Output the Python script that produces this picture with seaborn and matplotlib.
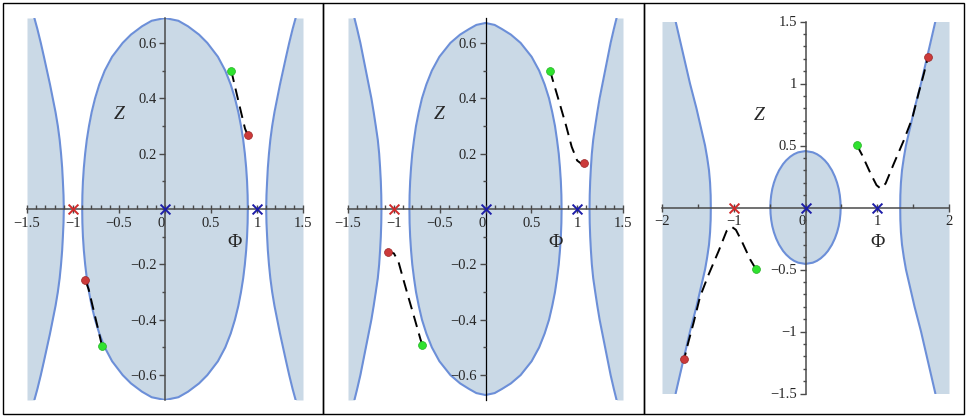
import numpy as np
import matplotlib
matplotlib.use("Agg")
import matplotlib.pyplot as plt
import seaborn as sns

sns.set_style("white")
plt.rcParams["font.family"] = ["Liberation Serif", "DejaVu Serif"]

# ---- data (upper half, mirrored in Z) ----
# panel 1
p1_blob_z = [0, .05, .1, .15, .2, .25, .3, .35, .4, .45, .5, .55, .6, .63, .66, .68, .69]
p1_blob_w = [.90, .898, .892, .882, .868, .85, .826, .797, .76, .714, .655, .575, .46, .37, .25, .145, 0]
p1_out_z = [0, .05, .1, .15, .2, .25, .3, .35, .4, .45, .5, .55, .6, .65, .69]
p1_out_w = [1.10, 1.103, 1.11, 1.118, 1.13, 1.145, 1.165, 1.19, 1.22, 1.25, 1.283, 1.316, 1.35, 1.387, 1.42]
p1_up_phi = [0.72, 0.78, 0.83, 0.87, 0.90]
p1_up_z = [0.50, 0.415, 0.345, 0.29, 0.267]
p1_lo_phi = [-0.685, -0.73, -0.78, -0.83, -0.866]
p1_lo_z = [-0.494, -0.43, -0.36, -0.29, -0.257]

# panel 2
p2_blob_z = [0, .05, .1, .15, .2, .25, .3, .35, .4, .45, .5, .55, .6, .63, .65, .665, .672]
p2_blob_w = [.83, .828, .822, .812, .799, .78, .758, .728, .693, .645, .585, .503, .383, .277, .18, .10, 0]
p2_out_z = [0, .05, .1, .15, .2, .25, .3, .35, .4, .45, .5, .55, .6, .65, .69]
p2_out_w = [1.135, 1.137, 1.142, 1.15, 1.16, 1.175, 1.197, 1.22, 1.245, 1.275, 1.305, 1.335, 1.365, 1.40, 1.43]
p2_up_phi = [0.705, 0.73, 0.81, 0.88, 0.94, 1.00, 1.04, 1.07]
p2_up_z = [0.50, 0.47, 0.38, 0.30, 0.225, 0.175, 0.165, 0.165]
p2_lo_phi = [-0.69, -0.71, -0.77, -0.84, -0.90, -0.95, -1.00, -1.06]
p2_lo_z = [-0.49, -0.47, -0.40, -0.32, -0.25, -0.19, -0.16, -0.157]

# panel 3
p3_blob_z = [0, .05, .1, .15, .2, .25, .3, .35, .38, .41, .43, .445, .455]
p3_blob_w = [.49, .487, .478, .463, .44, .409, .368, .313, .269, .212, .16, .102, 0]
p3_out_z = [0, .1, .2, .3, .4, .5, .6, .7, .8, .9, 1.0, 1.1, 1.2, 1.3, 1.4, 1.5]
p3_out_w = [1.32, 1.322, 1.33, 1.345, 1.37, 1.40, 1.44, 1.48, 1.52, 1.565, 1.61, 1.65, 1.69, 1.73, 1.77, 1.81]
p3_up_phi = [0.716, 0.79, 0.907, 0.99, 1.046, 1.116, 1.232, 1.371, 1.488, 1.58, 1.65, 1.706]
p3_up_z = [0.503, 0.422, 0.274, 0.18, 0.153, 0.193, 0.355, 0.543, 0.72, 0.93, 1.08, 1.21]
p3_lo_phi = [-0.69, -0.77, -0.89, -0.97, -1.03, -1.10, -1.21, -1.35, -1.47, -1.56, -1.63, -1.69]
p3_lo_z = [-0.498, -0.42, -0.27, -0.18, -0.155, -0.19, -0.35, -0.54, -0.72, -0.93, -1.08, -1.22]

# fixed points on the Phi axis
red_x = [-1]
blue_x = [0, 1]

FILL = "#cad9e6"
EDGE = "#6c8fd8"
AXC = "#4a4a4a"
GREEN = "#2fe22f"
RED = "#cc3a3a"


def mirror(z, w):
    z = np.asarray(z); w = np.asarray(w)
    return np.concatenate([-z[::-1], z[1:]]), np.concatenate([w[::-1], w[1:]])


def fmt(v):
    return ("%g" % v).replace("-", "\u2212")


def panel(ax, blob, out, curves, xlim, ylim, xmaj, xmin, ymaj, ymin, zpos, phipos):
    bz, bw = mirror(*blob)
    oz, ow = mirror(*out)
    ax.fill_betweenx(bz, -bw, bw, color=FILL, lw=0, zorder=1)
    ax.fill_betweenx(oz, ow, xlim[1], color=FILL, lw=0, zorder=1)
    ax.fill_betweenx(oz, xlim[0], -ow, color=FILL, lw=0, zorder=1)
    for sx in (1, -1):
        ax.plot(sx * bw, bz, color=EDGE, lw=1.5, zorder=2, solid_joinstyle="round")
        ax.plot(sx * ow, oz, color=EDGE, lw=1.5, zorder=2, solid_joinstyle="round")

    for phi, z in curves:
        sns.lineplot(x=phi, y=z, ax=ax, sort=False, estimator=None, color="black",
                     linewidth=1.4, linestyle=(0, (6, 3.5)), zorder=3)
        sns.scatterplot(x=[phi[0]], y=[z[0]], ax=ax, color=GREEN, s=32,
                        edgecolor="#22b022", linewidth=0.5, zorder=5)
        sns.scatterplot(x=[phi[-1]], y=[z[-1]], ax=ax, color=RED, s=32,
                        edgecolor="#9a2424", linewidth=0.5, zorder=5)

    sns.scatterplot(x=red_x, y=[0] * len(red_x), ax=ax, marker="x", s=50,
                    color="#d02a2a", linewidth=1.4, zorder=6)
    sns.scatterplot(x=blue_x, y=[0] * len(blue_x), ax=ax, marker="x", s=50,
                    color="#1c1ca8", linewidth=1.4, zorder=6)

    ax.set_xlim(*xlim)
    ax.set_ylim(*ylim)
    ax.patch.set_visible(False)
    ax.set_axisbelow(False)
    ax.xaxis.set_zorder(4)
    ax.yaxis.set_zorder(4)
    for s in ("top", "right"):
        ax.spines[s].set_visible(False)
    for s in ("left", "bottom"):
        ax.spines[s].set_position(("data", 0))
        ax.spines[s].set_color(AXC)
        ax.spines[s].set_linewidth(1.1)
        ax.spines[s].set_zorder(4)

    ax.set_xticks(xmaj)
    ax.set_xticklabels([fmt(v) for v in xmaj])
    ax.set_xticks(xmin, minor=True)
    ax.set_yticks(ymaj)
    ax.set_yticklabels([fmt(v) for v in ymaj])
    ax.set_yticks(ymin, minor=True)
    ax.tick_params(which="both", bottom=True, left=True, top=False, right=False)
    ax.tick_params(axis="x", which="major", direction="inout", length=6, width=1,
                   color=AXC, labelsize=10.5, pad=2.5)
    ax.tick_params(axis="x", which="minor", direction="in", length=3, width=1, color=AXC)
    ax.tick_params(axis="y", which="major", direction="out", length=4, width=1,
                   color=AXC, labelsize=10.5, pad=2)
    ax.tick_params(axis="y", which="minor", direction="out", length=2.5, width=1, color=AXC)
    for t in ax.get_xticklabels():
        if t.get_text() == "0":
            t.set_horizontalalignment("right")
    ax.set_xlabel("")
    ax.set_ylabel("")
    ax.text(*zpos, "Z", fontsize=14, style="italic", ha="center", va="center", zorder=6)
    ax.text(*phipos, "\u03a6", fontsize=14, ha="center", va="center", zorder=6)


W, H = 968, 416
fig = plt.figure(figsize=(W / 100, H / 100), dpi=100)


def add_axes(x0, x1, ytop, ybot):
    return fig.add_axes([x0 / W, 1 - ybot / H, (x1 - x0) / W, (ybot - ytop) / H])


ax1 = add_axes(27, 303, 18, 400)
ax2 = add_axes(348, 623, 18, 400)
ax3 = add_axes(662, 949, 21.5, 393.5)

xm12 = [-1.5, -1, -0.5, 0, 0.5, 1, 1.5]
xn12 = list(np.round(np.arange(-1.5, 1.51, 0.1), 2))
ym12 = [-0.6, -0.4, -0.2, 0.2, 0.4, 0.6]
yn12 = list(np.round(np.arange(-0.6, 0.61, 0.1), 2))

panel(ax1, (p1_blob_z, p1_blob_w), (p1_out_z, p1_out_w),
      [(p1_up_phi, p1_up_z), (p1_lo_phi, p1_lo_z)],
      (-1.5, 1.5), (-0.69, 0.69), xm12, xn12, ym12, yn12, (-0.5, 0.34), (0.76, -0.12))
panel(ax2, (p2_blob_z, p2_blob_w), (p2_out_z, p2_out_w),
      [(p2_up_phi, p2_up_z), (p2_lo_phi, p2_lo_z)],
      (-1.5, 1.5), (-0.69, 0.69), xm12, xn12, ym12, yn12, (-0.5, 0.34), (0.76, -0.12))
ax2.spines["left"].set_color("black")
ax2.spines["left"].set_linewidth(0.9)
panel(ax3, (p3_blob_z, p3_blob_w), (p3_out_z, p3_out_w),
      [(p3_up_phi, p3_up_z), (p3_lo_phi, p3_lo_z)],
      (-2, 2), (-1.5, 1.5), [-2, -1, 0, 1, 2], [-1.5, -0.5, 0.5, 1.5],
      [-1.5, -1, -0.5, 0.5, 1, 1.5], list(np.round(np.arange(-1.5, 1.51, 0.1), 2)),
      (-0.64, 0.74), (1.01, -0.28))

# panel frames
for x0, x1 in [(2.5, 322.5), (322.5, 643.5), (643.5, 963.5)]:
    fig.add_artist(plt.Rectangle((x0 / W, 1 - 413.5 / H), (x1 - x0) / W, 411 / H,
                                 transform=fig.transFigure, fill=False,
                                 edgecolor="black", lw=1.0))

fig.savefig("out.png", dpi=100)
